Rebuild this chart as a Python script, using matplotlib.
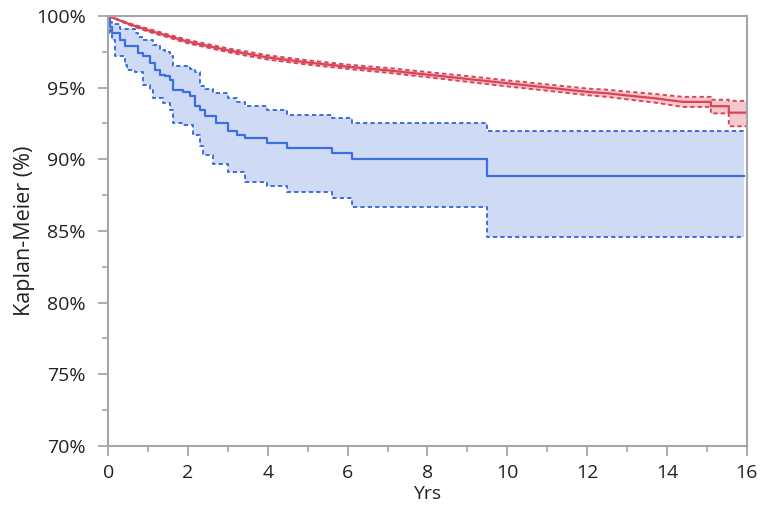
import matplotlib
matplotlib.use("Agg")
import matplotlib.pyplot as plt
from matplotlib.ticker import MultipleLocator, FuncFormatter

plt.rcParams["font.family"] = ["Open Sans", "DejaVu Sans"]

# blue group (step function, KM estimate + 95% CI)
blue_t = [0, 0.05, 0.1, 0.16, 0.29, 0.41, 0.46, 0.66, 0.75, 0.87, 1.04, 1.12, 1.17,
          1.29, 1.38, 1.42, 1.54, 1.63, 1.88, 2.04, 2.13, 2.17, 2.3, 2.38, 2.42,
          2.63, 2.71, 3.0, 3.22, 3.43, 3.97, 4.47, 5.6, 6.1, 9.5, 15.93]
blue_s = [100, 99.2, 98.8, 98.8, 98.3, 97.9, 97.9, 97.9, 97.4, 97.2, 96.7, 96.7, 96.2,
          95.9, 95.9, 95.8, 95.5, 94.8, 94.7, 94.4, 94.4, 93.7, 93.4, 93.4, 93.0,
          93.0, 92.5, 92.0, 91.7, 91.5, 91.1, 90.8, 90.4, 90.0, 88.8, 88.8]
blue_hi = [100, 99.6, 99.4, 99.4, 99.1, 99.1, 99.1, 98.8, 98.5, 98.3, 98.3, 98.0, 98.0,
           97.6, 97.6, 97.5, 97.2, 96.5, 96.5, 96.3, 96.3, 96.1, 95.1, 95.1, 94.9,
           94.6, 94.6, 94.3, 94.0, 93.7, 93.4, 93.1, 92.9, 92.5, 92.0, 92.0]
blue_lo = [100, 98.8, 98.3, 97.2, 97.2, 96.6, 96.2, 96.1, 96.1, 95.2, 94.8, 94.3, 94.3,
           94.3, 93.9, 93.9, 93.4, 92.5, 92.4, 92.4, 91.7, 91.7, 90.9, 90.3, 90.3,
           89.7, 89.7, 89.1, 89.1, 88.4, 88.1, 87.7, 87.3, 86.7, 84.6, 84.6]

# red group
red_t = [0, 0.5, 1, 1.5, 2, 2.5, 3, 3.5, 4, 5, 6, 7, 8, 9, 10, 11, 12, 12.5, 13,
         13.7, 14.4, 15.1, 15.1, 15.55, 15.55, 16]
red_s = [100, 99.45, 99.0, 98.6, 98.2, 97.9, 97.6, 97.35, 97.1, 96.75, 96.45, 96.2,
         95.9, 95.6, 95.3, 95.0, 94.7, 94.6, 94.45, 94.25, 94.0, 94.0, 93.7, 93.7,
         93.25, 93.25]
red_hi = [100, 99.5, 99.1, 98.7, 98.32, 98.02, 97.73, 97.5, 97.25, 96.9, 96.6, 96.37,
          96.08, 95.8, 95.5, 95.22, 94.93, 94.85, 94.72, 94.55, 94.35, 94.35, 94.15,
          94.15, 94.07, 94.07]
red_lo = [100, 99.4, 98.9, 98.5, 98.08, 97.78, 97.47, 97.2, 96.95, 96.6, 96.3, 96.03,
          95.72, 95.4, 95.08, 94.78, 94.47, 94.35, 94.18, 93.95, 93.65, 93.65, 93.2,
          93.2, 92.3, 92.3]

blue = "#3d6ee0"
blue_fill = "#cfdbf5"
red = "#d94457"
red_fill = "#f6c8ce"
grey = "#a6a6a6"
dash = (0, (2.2, 1.6))

fig = plt.figure(figsize=(7.62, 5.12), dpi=100)
ax = fig.add_axes([0.142, 0.129, 0.838, 0.840])

ax.fill_between(blue_t, blue_lo, blue_hi, step="post", color=blue_fill, lw=0)
ax.step(blue_t, blue_hi, where="post", color=blue, lw=1.4, ls=dash)
ax.step(blue_t, blue_lo, where="post", color=blue, lw=1.4, ls=dash)
ax.step(blue_t, blue_s, where="post", color=blue, lw=1.6)

ax.fill_between(red_t, red_lo, red_hi, color=red_fill, lw=0)
ax.plot(red_t, red_hi, color=red, lw=1.4, ls=dash)
ax.plot(red_t, red_lo, color=red, lw=1.4, ls=dash)
ax.plot(red_t, red_s, color=red, lw=1.6)

ax.set_xlim(0, 16)
ax.set_ylim(70, 100)
ax.xaxis.set_major_locator(MultipleLocator(2))
ax.xaxis.set_minor_locator(MultipleLocator(1))
ax.yaxis.set_major_locator(MultipleLocator(5))
ax.yaxis.set_minor_locator(MultipleLocator(2.5))
ax.yaxis.set_major_formatter(FuncFormatter(lambda v, p: f"{v:.0f}%"))

for s in ax.spines.values():
    s.set_color(grey)
    s.set_linewidth(1.5)
ax.tick_params(which="major", direction="out", length=7, width=1.3, color=grey,
               labelsize=14, labelcolor="#222222")
ax.tick_params(axis="x", which="major", pad=6)
ax.tick_params(axis="y", which="major", pad=9)
ax.tick_params(which="minor", direction="out", length=4, width=1.2, color=grey)

ax.set_xlabel("Yrs", fontsize=14, color="#222222", labelpad=2)
ax.set_ylabel("Kaplan-Meier (%)", fontsize=15.5, color="#222222")
ax.yaxis.set_label_coords(-0.115, 0.5)

fig.savefig("out.png", dpi=100)
